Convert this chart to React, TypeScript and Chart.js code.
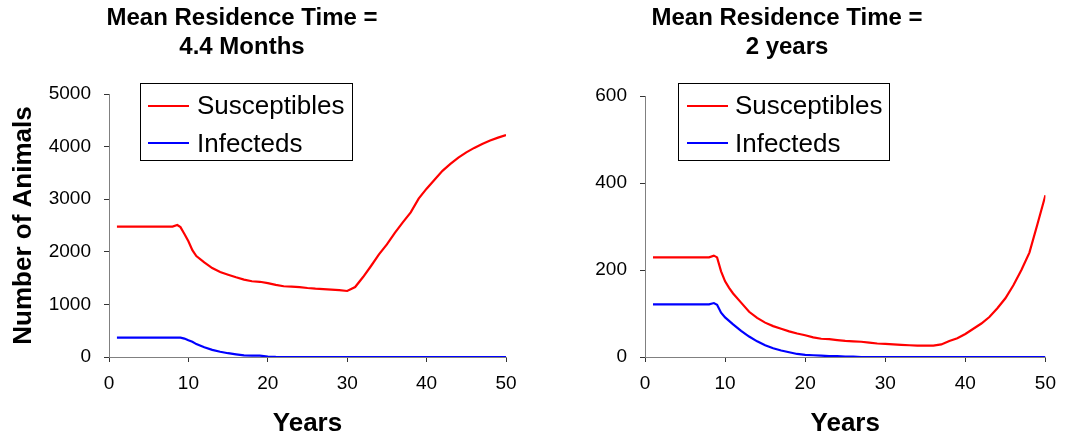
import React, { useEffect, useRef } from "react";
import { Chart, registerables } from "chart.js";
Chart.register(...registerables);

const FONT = "'Liberation Sans', Arial, Helvetica, sans-serif";

const YEARS = [1, 2, 3, 4, 5, 6, 7, 8, 8.6, 9, 9.5, 10, 10.5, 11, 12, 13, 14, 15, 16, 17, 18, 19, 20,
  21, 22, 23, 24, 25, 26, 27, 28, 29, 30, 31, 32, 33, 34, 35, 36, 37, 38, 39, 40,
  41, 42, 43, 44, 45, 46, 47, 48, 49, 50];

const LEFT_SUS = [2480, 2480, 2480, 2480, 2480, 2480, 2480, 2480, 2510, 2470, 2340, 2200, 2030,
  1920, 1800, 1690, 1615, 1565, 1515, 1470, 1440, 1430, 1405,
  1370, 1345, 1338, 1328, 1312, 1300, 1292, 1282, 1270, 1255,
  1330, 1520, 1730, 1950, 2140, 2360, 2560, 2750, 3010, 3200,
  3370, 3540, 3670, 3790, 3890, 3975, 4050, 4115, 4170, 4220];

const LEFT_INF = [370, 370, 370, 370, 370, 370, 370, 370, 370, 368, 350, 318, 288,
  245, 185, 135, 100, 72, 50, 31, 28, 26, 8,
  2, 0, 0, 0, 0, 0, 0, 0, 0, 0,
  0, 0, 0, 0, 0, 0, 0, 0, 0, 0,
  0, 0, 0, 0, 0, 0, 0, 0, 0, 0];

const RIGHT_SUS = [229, 229, 229, 229, 229, 229, 229, 229, 233, 229, 197, 174, 159,
  146, 125, 104, 90, 79, 71, 65, 59, 54, 50,
  45, 42, 41, 39, 37, 36, 35, 33, 31, 30,
  29, 28, 27, 26, 26, 26, 29, 37, 43, 53,
  65, 77, 92, 112, 135, 165, 200, 240, 305, 372];

const RIGHT_INF = [121, 121, 121, 121, 121, 121, 121, 121, 124, 120, 102, 91, 83,
  75, 60, 47, 36, 27, 20, 15, 11, 7, 5,
  4, 3, 2, 2, 1, 1, 0, 0, 0, 0,
  0, 0, 0, 0, 0, 0, 0, 0, 0, 0,
  0, 0, 0, 0, 0, 0, 0, 0, 0, 0];

const SERIES_LABELS = ["Susceptibles", "Infecteds"];
const SERIES_COLORS = ["#ff0000", "#0000ff"];
const X_TICKS = [0, 10, 20, 30, 40, 50];
const LEFT_TITLE = ["Mean Residence Time =", "4.4 Months"];
const RIGHT_TITLE = ["Mean Residence Time =", "2 years"];

type PanelCfg = {
  title: string[];
  titleX: number;
  sus: number[];
  inf: number[];
  yMax: number;
  yStep: number;
  padTop: number;
  padRight: number;
  legend: { x: number; y: number; w: number; h: number; lx0: number; lx1: number; tx: number };
  showYTitle: boolean;
};

function makeChart(canvas: HTMLCanvasElement, cfg: PanelCfg) {
  const overlay = {
    id: "overlay" + cfg.titleX,
    afterDraw(chart: any) {
      const ctx = chart.ctx;
      ctx.save();
      ctx.fillStyle = "#000";
      ctx.font = `bold 24px ${FONT}`;
      ctx.textAlign = "center";
      ctx.textBaseline = "alphabetic";
      ctx.fillText(cfg.title[0], cfg.titleX, 25);
      ctx.fillText(cfg.title[1], cfg.titleX, 54);
      const L = cfg.legend;
      ctx.strokeStyle = "#000";
      ctx.lineWidth = 1;
      ctx.strokeRect(L.x + 0.5, L.y + 0.5, L.w, L.h);
      const rows = [106, 143];
      const bases = [113.5, 151.5];
      chart.data.datasets.forEach((ds: any, i: number) => {
        ctx.strokeStyle = ds.borderColor;
        ctx.lineWidth = 2.2;
        ctx.beginPath();
        ctx.moveTo(L.lx0, rows[i]);
        ctx.lineTo(L.lx1, rows[i]);
        ctx.stroke();
        ctx.fillStyle = "#000";
        ctx.font = `26px ${FONT}`;
        ctx.textAlign = "left";
        ctx.fillText(ds.label, L.tx, bases[i]);
      });
      ctx.restore();
    },
  };

  const mk = (vals: number[]) => YEARS.map((x, i) => ({ x, y: vals[i] }));

  return new Chart(canvas, {
    type: "line",
    data: {
      datasets: [
        { label: SERIES_LABELS[0], data: mk(cfg.sus), borderColor: SERIES_COLORS[0], borderWidth: 2.2, pointRadius: 0, tension: 0 },
        { label: SERIES_LABELS[1], data: mk(cfg.inf), borderColor: SERIES_COLORS[1], borderWidth: 2.2, pointRadius: 0, tension: 0 },
      ],
    },
    options: {
      animation: false,
      responsive: false,
      maintainAspectRatio: false,
      layout: { padding: { left: 0, right: cfg.padRight, top: cfg.padTop, bottom: 0 } },
      plugins: { legend: { display: false }, title: { display: false }, tooltip: { enabled: false } },
      scales: {
        x: {
          type: "linear",
          min: 0,
          max: 50,
          afterBuildTicks: (s: any) => { s.ticks = X_TICKS.map((v) => ({ value: v })); },
          afterFit: (s: any) => { s.height = 82; },
          ticks: { color: "#000", font: { family: FONT, size: 19 }, padding: 10, maxRotation: 0, callback: (v: any) => String(v) },
          grid: { display: true, drawOnChartArea: false, drawTicks: true, tickLength: 5, color: "#333" },
          border: { display: true, color: "#808080", width: 1 },
          title: { display: true, text: "Years", color: "#000", font: { family: FONT, size: 26, weight: "bold", lineHeight: 1.2 }, padding: { top: 0, bottom: 0 } },
        },
        y: {
          min: 0,
          max: cfg.yMax,
          ticks: { stepSize: cfg.yStep, color: "#000", font: { family: FONT, size: 19 }, padding: 13, callback: (v: any) => String(v) },
          afterFit: (s: any) => { s.width = 109; },
          grid: { display: true, drawOnChartArea: false, drawTicks: true, tickLength: 5, color: "#333" },
          border: { display: true, color: "#808080", width: 1 },
          title: { display: cfg.showYTitle, text: "Number of Animals", color: "#000", font: { family: FONT, size: 26, weight: "bold", lineHeight: 1.2 }, padding: { top: 8, bottom: 0 } },
        },
      },
    },
    plugins: [overlay],
  } as any);
}

export default function App() {
  const leftRef = useRef<HTMLCanvasElement>(null);
  const rightRef = useRef<HTMLCanvasElement>(null);

  useEffect(() => {
    const a = makeChart(leftRef.current!, {
      title: LEFT_TITLE,
      titleX: 242,
      sus: LEFT_SUS,
      inf: LEFT_INF,
      yMax: 5000,
      yStep: 1000,
      padTop: 94,
      padRight: 24,
      legend: { x: 140, y: 83, w: 212, h: 77, lx0: 148, lx1: 189, tx: 197 },
      showYTitle: true,
    });
    const b = makeChart(rightRef.current!, {
      title: RIGHT_TITLE,
      titleX: 251,
      sus: RIGHT_SUS,
      inf: RIGHT_INF,
      yMax: 600,
      yStep: 200,
      padTop: 96,
      padRight: 13,
      legend: { x: 142, y: 83, w: 211, h: 77, lx0: 151, lx1: 192, tx: 199 },
      showYTitle: false,
    });
    return () => { a.destroy(); b.destroy(); };
  }, []);

  return (
    <div style={{ position: "absolute", left: 0, top: 0, width: 1066, height: 439, background: "#fff", overflow: "hidden" }}>
      <canvas ref={leftRef} width={530} height={439} style={{ position: "absolute", left: 0, top: 0, width: 530, height: 439 }} />
      <canvas ref={rightRef} width={530} height={439} style={{ position: "absolute", left: 536, top: 0, width: 530, height: 439 }} />
    </div>
  );
}
